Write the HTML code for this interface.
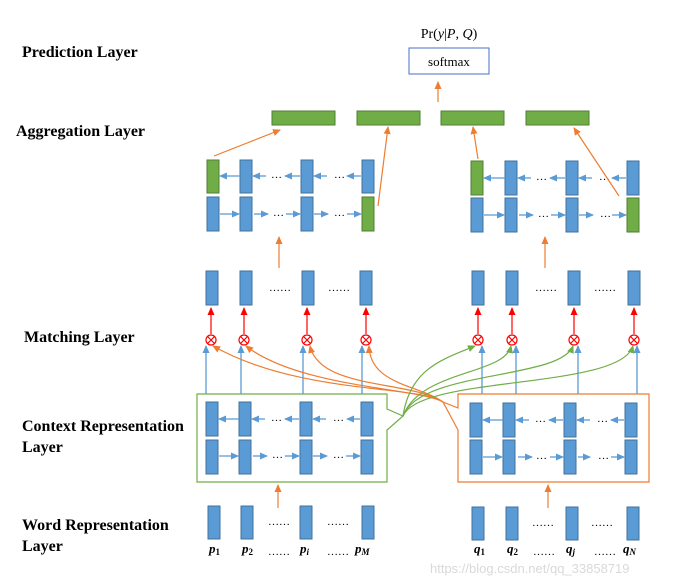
<!DOCTYPE html>
<html><head><meta charset="utf-8"><style>
body{margin:0;background:#fff}
svg{display:block}
.t{font-family:"Liberation Serif",serif;font-weight:bold;font-size:16px;fill:#000}
.b{fill:#5b9bd5;stroke:#41719c;stroke-width:1}
.g{fill:#70ad47;stroke:#507e32;stroke-width:1}
.bl{stroke:#5b9bd5;stroke-width:1.3;fill:none}
.or{stroke:#ed7d31;stroke-width:1.2;fill:none}
.gr{stroke:#70ad47;stroke-width:1.2;fill:none}
.rd{stroke:#f00;stroke-width:1.2;fill:none}
.d{font-family:"Liberation Serif",serif;font-size:11px;fill:#000}
.l{font-family:"Liberation Serif",serif;font-weight:bold;font-style:italic;font-size:13px;fill:#000}
</style></head><body>
<svg width="683" height="588" viewBox="0 0 683 588" xmlns="http://www.w3.org/2000/svg">
<defs>
<marker id="ab" markerWidth="8" markerHeight="8" refX="7" refY="4" orient="auto" markerUnits="userSpaceOnUse"><path d="M0,0.5 L8,4 L0,7.5z" fill="#5b9bd5"/></marker>
<marker id="ao" markerWidth="8" markerHeight="8" refX="7" refY="4" orient="auto" markerUnits="userSpaceOnUse"><path d="M0,0.5 L8,4 L0,7.5z" fill="#ed7d31"/></marker>
<marker id="ag" markerWidth="8" markerHeight="8" refX="7" refY="4" orient="auto" markerUnits="userSpaceOnUse"><path d="M0,0.5 L8,4 L0,7.5z" fill="#70ad47"/></marker>
<marker id="ar" markerWidth="8" markerHeight="8" refX="7" refY="4" orient="auto" markerUnits="userSpaceOnUse"><path d="M0,0.5 L8,4 L0,7.5z" fill="#f00"/></marker>
</defs>

<text class="t" x="22" y="57">Prediction Layer</text>
<text class="t" x="16" y="136">Aggregation Layer</text>
<text class="t" x="24" y="342">Matching Layer</text>
<text class="t" x="22" y="431">Context Representation</text>
<text class="t" x="22" y="452">Layer</text>
<text class="t" x="22" y="530">Word Representation</text>
<text class="t" x="22" y="551">Layer</text>

<text x="449" y="38" text-anchor="middle" font-family="Liberation Serif,serif" font-size="14">Pr(<tspan font-style="italic">y</tspan>|<tspan font-style="italic">P</tspan>, <tspan font-style="italic">Q</tspan>)</text>
<rect x="409" y="48" width="80" height="26" fill="#fff" stroke="#4472c4" stroke-width="1"/>
<text x="449" y="66" text-anchor="middle" font-family="Liberation Serif,serif" font-size="13">softmax</text>
<line class="or" x1="438" y1="102" x2="438" y2="82" marker-end="url(#ao)"/>

<rect class="g" x="272" y="111" width="63" height="14"/>
<rect class="g" x="357" y="111" width="63" height="14"/>
<rect class="g" x="441" y="111" width="63" height="14"/>
<rect class="g" x="526" y="111" width="63" height="14"/>

<rect class="g" x="207" y="160" width="12" height="33"/>
<rect class="b" x="240" y="160" width="12" height="33"/>
<rect class="b" x="301" y="160" width="12" height="33"/>
<rect class="b" x="362" y="160" width="12" height="33"/>
<rect class="b" x="207" y="197" width="12" height="34"/>
<rect class="b" x="240" y="197" width="12" height="34"/>
<rect class="b" x="301" y="197" width="12" height="34"/>
<rect class="g" x="362" y="197" width="12" height="34"/>
<g class="bl">
<line x1="240" y1="176" x2="220" y2="176" marker-end="url(#ab)"/>
<line x1="266" y1="176" x2="253" y2="176" marker-end="url(#ab)"/>
<line x1="300" y1="176" x2="285" y2="176" marker-end="url(#ab)"/>
<line x1="327" y1="176" x2="314" y2="176" marker-end="url(#ab)"/>
<line x1="361" y1="176" x2="347" y2="176" marker-end="url(#ab)"/>
<line x1="220" y1="214" x2="239" y2="214" marker-end="url(#ab)"/>
<line x1="254" y1="214" x2="268" y2="214" marker-end="url(#ab)"/>
<line x1="286" y1="214" x2="300" y2="214" marker-end="url(#ab)"/>
<line x1="314" y1="214" x2="328" y2="214" marker-end="url(#ab)"/>
<line x1="347" y1="214" x2="361" y2="214" marker-end="url(#ab)"/>
</g>
<text class="d" x="271" y="178">…</text><text class="d" x="334" y="178">…</text>
<text class="d" x="273" y="216">…</text><text class="d" x="334" y="216">…</text>

<rect class="g" x="471" y="161" width="12" height="34"/>
<rect class="b" x="505" y="161" width="12" height="34"/>
<rect class="b" x="566" y="161" width="12" height="34"/>
<rect class="b" x="627" y="161" width="12" height="34"/>
<rect class="b" x="471" y="198" width="12" height="34"/>
<rect class="b" x="505" y="198" width="12" height="34"/>
<rect class="b" x="566" y="198" width="12" height="34"/>
<rect class="g" x="627" y="198" width="12" height="34"/>
<g class="bl">
<line x1="505" y1="178" x2="484" y2="178" marker-end="url(#ab)"/>
<line x1="531" y1="178" x2="518" y2="178" marker-end="url(#ab)"/>
<line x1="565" y1="178" x2="550" y2="178" marker-end="url(#ab)"/>
<line x1="592" y1="178" x2="579" y2="178" marker-end="url(#ab)"/>
<line x1="626" y1="178" x2="612" y2="178" marker-end="url(#ab)"/>
<line x1="484" y1="215" x2="504" y2="215" marker-end="url(#ab)"/>
<line x1="519" y1="215" x2="533" y2="215" marker-end="url(#ab)"/>
<line x1="551" y1="215" x2="565" y2="215" marker-end="url(#ab)"/>
<line x1="579" y1="215" x2="593" y2="215" marker-end="url(#ab)"/>
<line x1="612" y1="215" x2="626" y2="215" marker-end="url(#ab)"/>
</g>
<text class="d" x="536" y="180">…</text><text class="d" x="599" y="180">…</text>
<text class="d" x="538" y="217">…</text><text class="d" x="600" y="217">…</text>

<g class="or">
<line x1="214" y1="156" x2="280" y2="130" marker-end="url(#ao)"/>
<line x1="378" y1="206" x2="388" y2="127" marker-end="url(#ao)"/>
<line x1="478" y1="159" x2="473" y2="127" marker-end="url(#ao)"/>
<line x1="619" y1="196" x2="574" y2="128" marker-end="url(#ao)"/>
<line x1="279" y1="268" x2="279" y2="237" marker-end="url(#ao)"/>
<line x1="545" y1="268" x2="545" y2="237" marker-end="url(#ao)"/>
</g>

<rect class="b" x="206" y="271" width="12" height="34"/>
<rect class="b" x="240" y="271" width="12" height="34"/>
<rect class="b" x="302" y="271" width="12" height="34"/>
<rect class="b" x="360" y="271" width="12" height="34"/>
<rect class="b" x="472" y="271" width="12" height="34"/>
<rect class="b" x="506" y="271" width="12" height="34"/>
<rect class="b" x="568" y="271" width="12" height="34"/>
<rect class="b" x="628" y="271" width="12" height="34"/>
<text class="d" x="269" y="291">……</text><text class="d" x="328" y="291">……</text>
<text class="d" x="535" y="291">……</text><text class="d" x="594" y="291">……</text>

<g class="rd">
<line x1="211" y1="334" x2="211" y2="308" marker-end="url(#ar)"/>
<line x1="244" y1="334" x2="244" y2="308" marker-end="url(#ar)"/>
<line x1="307" y1="334" x2="307" y2="308" marker-end="url(#ar)"/>
<line x1="366" y1="334" x2="366" y2="308" marker-end="url(#ar)"/>
<line x1="478" y1="334" x2="478" y2="308" marker-end="url(#ar)"/>
<line x1="512" y1="334" x2="512" y2="308" marker-end="url(#ar)"/>
<line x1="574" y1="334" x2="574" y2="308" marker-end="url(#ar)"/>
<line x1="634" y1="334" x2="634" y2="308" marker-end="url(#ar)"/>
</g>
<g class="rd" stroke-width="1">
<circle cx="211" cy="340" r="5" fill="#fff"/><path d="M207.5,336.5l7,7M214.5,336.5l-7,7"/>
<circle cx="244" cy="340" r="5" fill="#fff"/><path d="M240.5,336.5l7,7M247.5,336.5l-7,7"/>
<circle cx="307" cy="340" r="5" fill="#fff"/><path d="M303.5,336.5l7,7M310.5,336.5l-7,7"/>
<circle cx="366" cy="340" r="5" fill="#fff"/><path d="M362.5,336.5l7,7M369.5,336.5l-7,7"/>
<circle cx="478" cy="340" r="5" fill="#fff"/><path d="M474.5,336.5l7,7M481.5,336.5l-7,7"/>
<circle cx="512" cy="340" r="5" fill="#fff"/><path d="M508.5,336.5l7,7M515.5,336.5l-7,7"/>
<circle cx="574" cy="340" r="5" fill="#fff"/><path d="M570.5,336.5l7,7M577.5,336.5l-7,7"/>
<circle cx="634" cy="340" r="5" fill="#fff"/><path d="M630.5,336.5l7,7M637.5,336.5l-7,7"/>
</g>

<g class="bl" stroke="#9dc3e6">
<line x1="206" y1="394" x2="206" y2="346" marker-end="url(#ab)"/>
<line x1="241" y1="394" x2="241" y2="346" marker-end="url(#ab)"/>
<line x1="303" y1="394" x2="303" y2="346" marker-end="url(#ab)"/>
<line x1="362" y1="394" x2="362" y2="346" marker-end="url(#ab)"/>
<line x1="482" y1="394" x2="482" y2="346" marker-end="url(#ab)"/>
<line x1="516" y1="394" x2="516" y2="346" marker-end="url(#ab)"/>
<line x1="578" y1="394" x2="578" y2="346" marker-end="url(#ab)"/>
<line x1="637" y1="394" x2="637" y2="346" marker-end="url(#ab)"/>
</g>

<g class="or">
<path d="M443,402 C420,385 300,395 213,346" marker-end="url(#ao)"/>
<path d="M443,402 C420,388 300,388 246,346" marker-end="url(#ao)"/>
<path d="M443,402 C410,380 320,390 310,346" marker-end="url(#ao)"/>
<path d="M443,402 C420,385 370,385 369,346" marker-end="url(#ao)"/>
</g>
<g class="gr">
<path d="M403,416 C410,370 440,360 475,346" marker-end="url(#ag)"/>
<path d="M403,416 C420,370 505,375 511,346" marker-end="url(#ag)"/>
<path d="M403,416 C420,370 560,380 573,346" marker-end="url(#ag)"/>
<path d="M403,416 C420,375 620,390 633,346" marker-end="url(#ag)"/>
</g>

<polygon points="197,394 387,394 387,409 403,416 387,430 387,482 197,482" fill="none" stroke="#70ad47" stroke-width="1.2"/>
<polygon points="458,394 649,394 649,482 458,482 458,430 443,402 458,408" fill="none" stroke="#ed7d31" stroke-width="1.2"/>

<rect class="b" x="206" y="402" width="12" height="34"/>
<rect class="b" x="239" y="402" width="12" height="34"/>
<rect class="b" x="300" y="402" width="12" height="34"/>
<rect class="b" x="361" y="402" width="12" height="34"/>
<rect class="b" x="206" y="440" width="12" height="34"/>
<rect class="b" x="239" y="440" width="12" height="34"/>
<rect class="b" x="300" y="440" width="12" height="34"/>
<rect class="b" x="361" y="440" width="12" height="34"/>
<g class="bl">
<line x1="239" y1="419" x2="219" y2="419" marker-end="url(#ab)"/>
<line x1="265" y1="419" x2="252" y2="419" marker-end="url(#ab)"/>
<line x1="299" y1="419" x2="285" y2="419" marker-end="url(#ab)"/>
<line x1="326" y1="419" x2="313" y2="419" marker-end="url(#ab)"/>
<line x1="360" y1="419" x2="347" y2="419" marker-end="url(#ab)"/>
<line x1="219" y1="456" x2="238" y2="456" marker-end="url(#ab)"/>
<line x1="253" y1="456" x2="267" y2="456" marker-end="url(#ab)"/>
<line x1="285" y1="456" x2="299" y2="456" marker-end="url(#ab)"/>
<line x1="313" y1="456" x2="327" y2="456" marker-end="url(#ab)"/>
<line x1="346" y1="456" x2="360" y2="456" marker-end="url(#ab)"/>
</g>
<text class="d" x="271" y="421">…</text><text class="d" x="333" y="421">…</text>
<text class="d" x="272" y="458">…</text><text class="d" x="333" y="458">…</text>

<rect class="b" x="470" y="403" width="12" height="34"/>
<rect class="b" x="503" y="403" width="12" height="34"/>
<rect class="b" x="564" y="403" width="12" height="34"/>
<rect class="b" x="625" y="403" width="12" height="34"/>
<rect class="b" x="470" y="440" width="12" height="34"/>
<rect class="b" x="503" y="440" width="12" height="34"/>
<rect class="b" x="564" y="440" width="12" height="34"/>
<rect class="b" x="625" y="440" width="12" height="34"/>
<g class="bl">
<line x1="503" y1="420" x2="483" y2="420" marker-end="url(#ab)"/>
<line x1="529" y1="420" x2="516" y2="420" marker-end="url(#ab)"/>
<line x1="563" y1="420" x2="549" y2="420" marker-end="url(#ab)"/>
<line x1="590" y1="420" x2="577" y2="420" marker-end="url(#ab)"/>
<line x1="624" y1="420" x2="611" y2="420" marker-end="url(#ab)"/>
<line x1="483" y1="457" x2="502" y2="457" marker-end="url(#ab)"/>
<line x1="518" y1="457" x2="532" y2="457" marker-end="url(#ab)"/>
<line x1="550" y1="457" x2="563" y2="457" marker-end="url(#ab)"/>
<line x1="578" y1="457" x2="590" y2="457" marker-end="url(#ab)"/>
<line x1="611" y1="457" x2="624" y2="457" marker-end="url(#ab)"/>
</g>
<text class="d" x="535" y="422">…</text><text class="d" x="597" y="422">…</text>
<text class="d" x="536" y="459">…</text><text class="d" x="598" y="459">…</text>

<line class="or" x1="278" y1="508" x2="278" y2="485" marker-end="url(#ao)"/>
<line class="or" x1="548" y1="508" x2="548" y2="485" marker-end="url(#ao)"/>

<rect class="b" x="208" y="506" width="12" height="33"/>
<rect class="b" x="241" y="506" width="12" height="33"/>
<rect class="b" x="300" y="506" width="12" height="33"/>
<rect class="b" x="362" y="506" width="12" height="33"/>
<rect class="b" x="472" y="507" width="12" height="33"/>
<rect class="b" x="506" y="507" width="12" height="33"/>
<rect class="b" x="566" y="507" width="12" height="33"/>
<rect class="b" x="627" y="507" width="12" height="33"/>
<text class="d" x="268" y="525">……</text><text class="d" x="327" y="525">……</text>
<text class="d" x="532" y="526">……</text><text class="d" x="591" y="526">……</text>

<text class="l" x="209" y="553">p<tspan font-size="9" font-style="normal" dy="2">1</tspan></text>
<text class="l" x="242" y="553">p<tspan font-size="9" font-style="normal" dy="2">2</tspan></text>
<text class="l" x="300" y="553">p<tspan font-size="9" dy="2">i</tspan></text>
<text class="l" x="355" y="553">p<tspan font-size="9" dy="2">M</tspan></text>
<text class="d" x="268" y="555">……</text><text class="d" x="327" y="555">……</text>
<text class="l" x="474" y="553">q<tspan font-size="9" font-style="normal" dy="2">1</tspan></text>
<text class="l" x="507" y="553">q<tspan font-size="9" font-style="normal" dy="2">2</tspan></text>
<text class="l" x="566" y="553">q<tspan font-size="9" dy="2">j</tspan></text>
<text class="l" x="623" y="553">q<tspan font-size="9" dy="2">N</tspan></text>
<text class="d" x="533" y="555">……</text><text class="d" x="594" y="555">……</text>

<text x="430" y="573" font-family="Liberation Sans,sans-serif" font-size="13" fill="#d9d9d9">https://blog.csdn.net/qq_33858719</text>
</svg>
</body></html>
